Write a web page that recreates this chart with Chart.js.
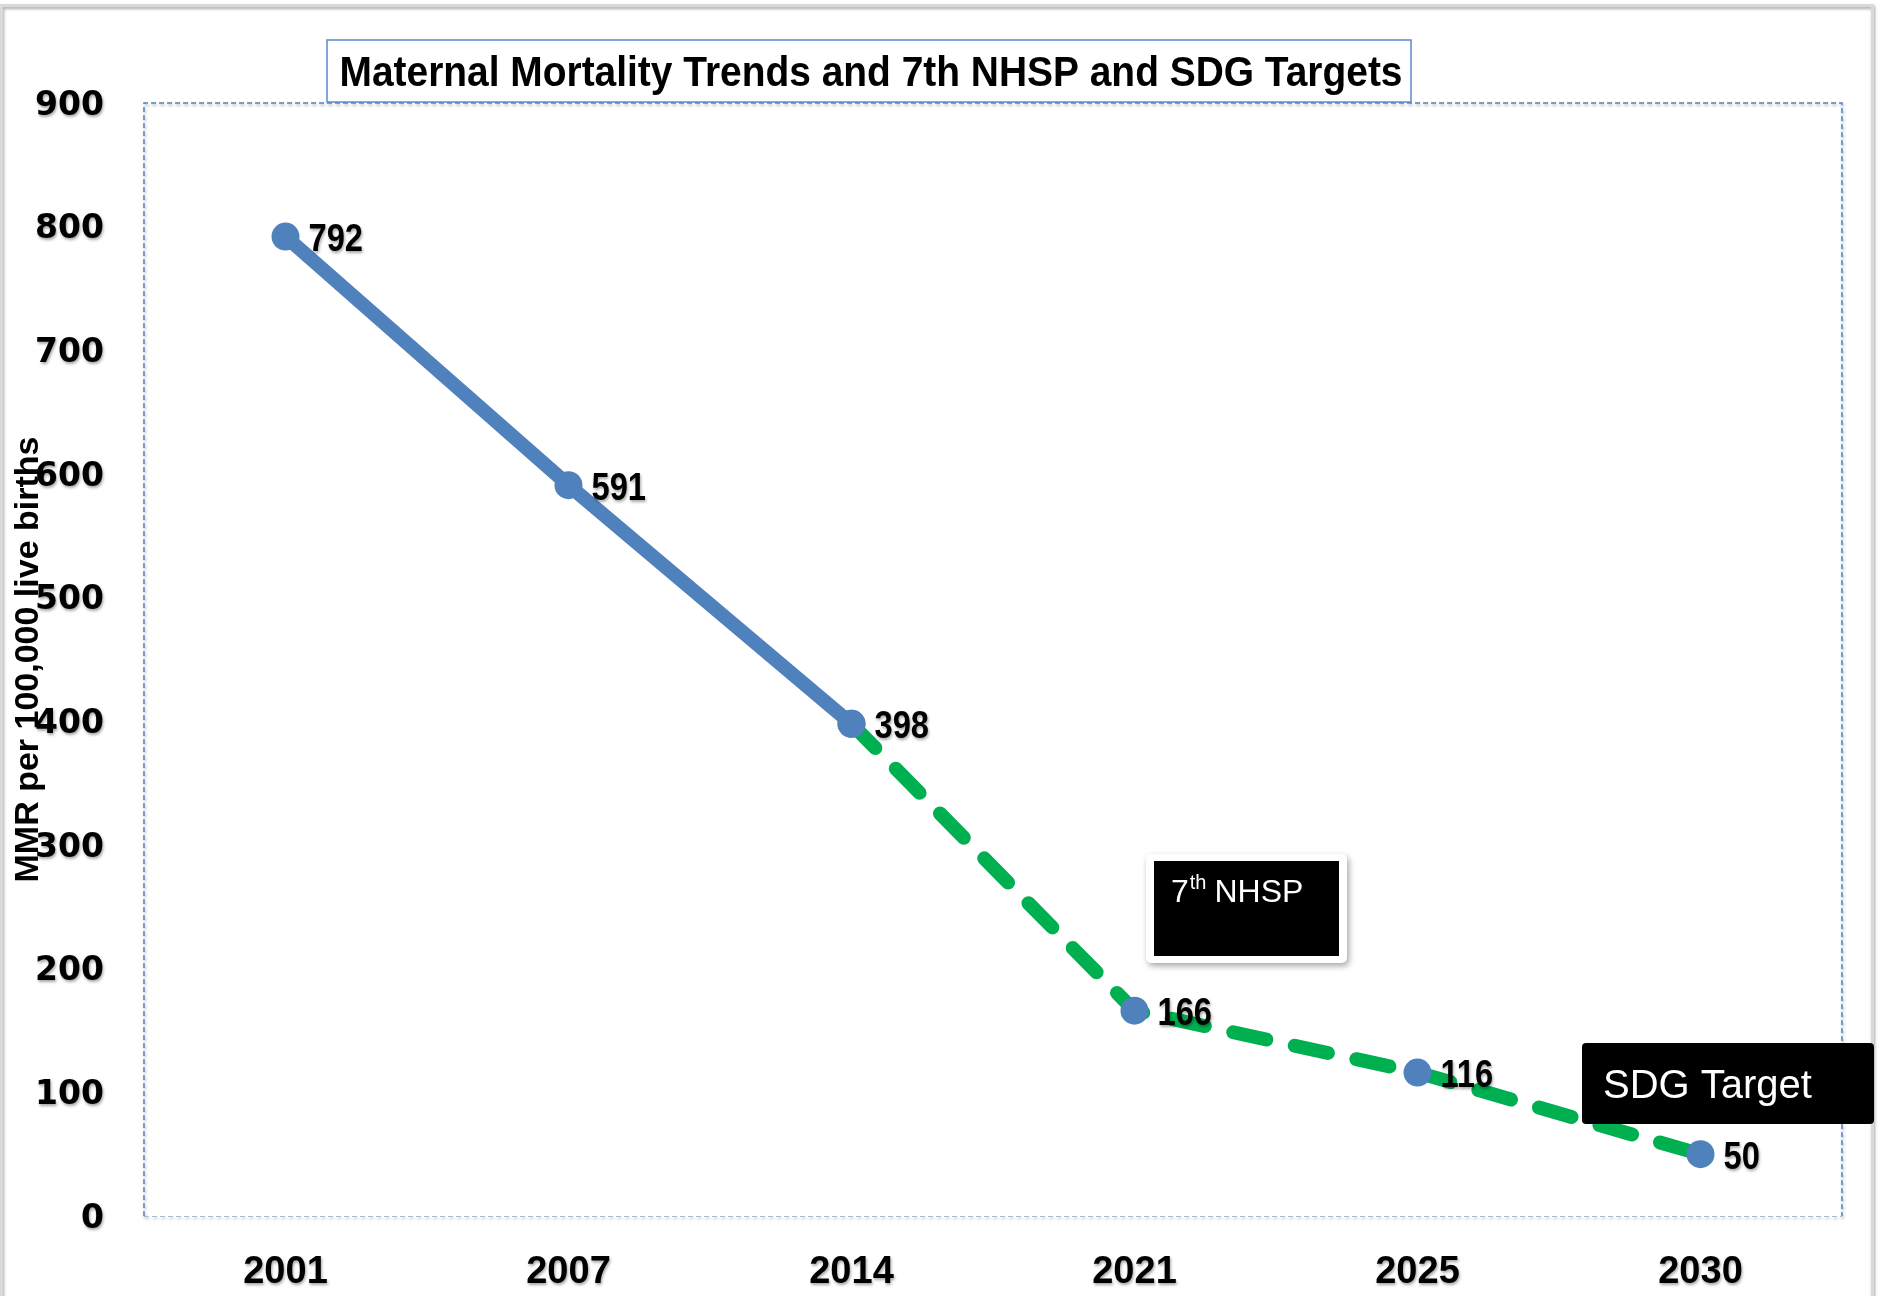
<!DOCTYPE html>
<html>
<head>
<meta charset="utf-8">
<script src="https://cdn.jsdelivr.net/npm/chart.js@4"></script>
<style>
  html, body { margin: 0; padding: 0; background: #fff; }
  canvas { display: block; }
</style>
</head>
<body>
<canvas id="grafico" width="1878" height="1296"></canvas>
<script>
const years = ["2001", "2007", "2014", "2021", "2025", "2030"];
const actualMMR = [792, 591, 398, null, null, null];
const targetMMR = [null, null, 398, 166, 116, 50];
const yTicks = [0, 100, 200, 300, 400, 500, 600, 700, 800, 900];

const chartTitle = "Maternal Mortality Trends and 7th NHSP and SDG Targets";
const yTitle = "MMR per 100,000 live births";

const narrow = '"Liberation Sans Narrow", "Liberation Sans", sans-serif';
const blue = "#4f81bd";
const green = "#00b050";

// draws text squeezed horizontally (the source uses a condensed face)
function squeezed(c, text, x, y, sx, align) {
    const w = c.measureText(text).width * sx;
    let x0 = x;
    if (align === "center") x0 = x - w / 2;
    c.save();
    c.textAlign = "left";
    c.translate(x0, y);
    c.scale(sx, 1);
    c.fillText(text, 0, 0);
    c.restore();
}

// shadow on the axis labels only
const tickShadow = {
    id: "tickShadow",
    beforeDraw(chart) {
        const c = chart.ctx;
        c.save();
        c.shadowColor = "rgba(0,0,0,0.35)";
        c.shadowBlur = 3;
        c.shadowOffsetX = 1;
        c.shadowOffsetY = 2;
    },
    beforeDatasetsDraw(chart) {
        chart.ctx.restore();
    }
};

const decorations = {
    id: "decorations",
    beforeDraw(chart) {
        const c = chart.ctx;
        const a = chart.chartArea;
        c.save();
        // outer frame
        c.strokeStyle = "#d9d9d9";
        c.lineWidth = 3;
        c.strokeRect(1.5, 5.5, 1871, 1300);
        // plot border
        c.lineWidth = 1.5;
        c.strokeStyle = blue;
        c.setLineDash([5, 3]);
        c.beginPath();
        c.moveTo(a.left, a.bottom);
        c.lineTo(a.left, a.top);
        c.lineTo(a.right, a.top);
        c.lineTo(a.right, a.bottom);
        c.stroke();
        c.strokeStyle = "#a9bcd8";
        c.lineWidth = 1;
        c.beginPath();
        c.moveTo(a.left, a.bottom + 0.5);
        c.lineTo(a.right, a.bottom + 0.5);
        c.stroke();
        c.restore();
    },
    afterDraw(chart) {
        const c = chart.ctx;
        const a = chart.chartArea;
        c.save();

        // title box
        c.fillStyle = "#fff";
        c.fillRect(327, 40, 1084, 62);
        c.strokeStyle = "#5b8bd0";
        c.lineWidth = 1.5;
        c.strokeRect(327, 40, 1084, 62);
        c.fillStyle = "#000";
        c.font = "bold 43px " + narrow;
        c.textBaseline = "middle";
        const tw = c.measureText(chartTitle).width;
        squeezed(c, chartTitle, 871, 74, 1063 / tw, "center");

        // y axis title
        c.save();
        c.translate(29, (a.top + a.bottom) / 2);
        c.rotate(-Math.PI / 2);
        c.font = "bold 34px " + narrow;
        c.textAlign = "center";
        c.fillText(yTitle, 0, 0);
        c.restore();

        // data labels
        c.font = "bold 38px " + narrow;
        c.textBaseline = "middle";
        c.shadowColor = "rgba(0,0,0,0.35)";
        c.shadowBlur = 3;
        c.shadowOffsetX = 1;
        c.shadowOffsetY = 2;
        chart.data.datasets.forEach((ds, i) => {
            const meta = chart.getDatasetMeta(i);
            ds.data.forEach((v, j) => {
                if (v === null) return;
                if (i === 1 && j === 2) return;
                const pt = meta.data[j];
                squeezed(c, String(v), pt.x + 23, pt.y + 4, 0.86, "left");
            });
        });
        c.shadowColor = "transparent";

        // 7th NHSP box
        c.save();
        c.shadowColor = "rgba(0,0,0,0.35)";
        c.shadowBlur = 6;
        c.shadowOffsetX = 2;
        c.shadowOffsetY = 3;
        c.fillStyle = "#fff";
        c.beginPath();
        c.roundRect(1146, 854, 201, 109, 5);
        c.fill();
        c.restore();
        c.fillStyle = "#000";
        c.fillRect(1154, 861, 185, 95);
        c.fillStyle = "#fff";
        c.textAlign = "left";
        c.textBaseline = "alphabetic";
        c.font = "32px " + narrow;
        c.fillText("7", 1171, 902);
        let w = c.measureText("7").width;
        c.font = "20px " + narrow;
        c.fillText("th", 1171 + w + 1, 889);
        let w2 = c.measureText("th").width;
        c.font = "32px " + narrow;
        c.fillText("NHSP", 1171 + w + w2 + 9, 902);

        // SDG target box
        c.fillStyle = "#000";
        c.beginPath();
        c.roundRect(1582, 1043, 292, 81, 4);
        c.fill();
        c.fillStyle = "#fff";
        c.font = "40px " + narrow;
        c.fillText("SDG Target", 1603, 1098);

        c.restore();
    }
};

const ctx = document.getElementById("grafico").getContext("2d");
const chart = new Chart(ctx, {
    type: "line",
    data: {
        labels: years,
        datasets: [
            {
                label: "MMR",
                data: actualMMR,
                borderColor: blue,
                backgroundColor: blue,
                borderWidth: 14,
                borderCapStyle: "round",
                borderJoinStyle: "round",
                pointRadius: 14,
                pointBorderWidth: 0,
                pointBackgroundColor: blue,
                fill: false,
                tension: 0,
                order: 1
            },
            {
                label: "Targets",
                data: targetMMR,
                borderColor: green,
                backgroundColor: blue,
                borderWidth: 14,
                borderDash: [34, 29],
                borderCapStyle: "round",
                borderJoinStyle: "round",
                pointRadius: 14,
                pointBorderWidth: 0,
                pointBackgroundColor: blue,
                fill: false,
                tension: 0,
                order: 2
            }
        ]
    },
    options: {
        responsive: false,
        animation: false,
        events: [],
        layout: { padding: { top: 103, right: 36, left: 0, bottom: 0 } },
        plugins: {
            legend: { display: false },
            tooltip: { enabled: false },
            title: { display: false }
        },
        scales: {
            x: {
                offset: true,
                grid: { display: false, drawTicks: false },
                border: { display: false },
                ticks: {
                    color: "#000",
                    padding: 34,
                    font: { family: narrow, size: 38, weight: "bold" }
                },
                afterFit(scale) { scale.height = 80; }
            },
            y: {
                min: 0,
                max: 900,
                grid: { display: false, drawTicks: false },
                border: { display: false },
                afterBuildTicks(scale) {
                    scale.ticks = yTicks.map(v => ({ value: v }));
                },
                ticks: {
                    color: "#000",
                    padding: 40,
                    labelOffset: 3,
                    font: { family: '"DejaVu Sans", sans-serif', size: 33, weight: "bold" }
                },
                afterFit(scale) { scale.width = 144; }
            }
        }
    },
    plugins: [tickShadow, decorations]
});
</script>
</body>
</html>
